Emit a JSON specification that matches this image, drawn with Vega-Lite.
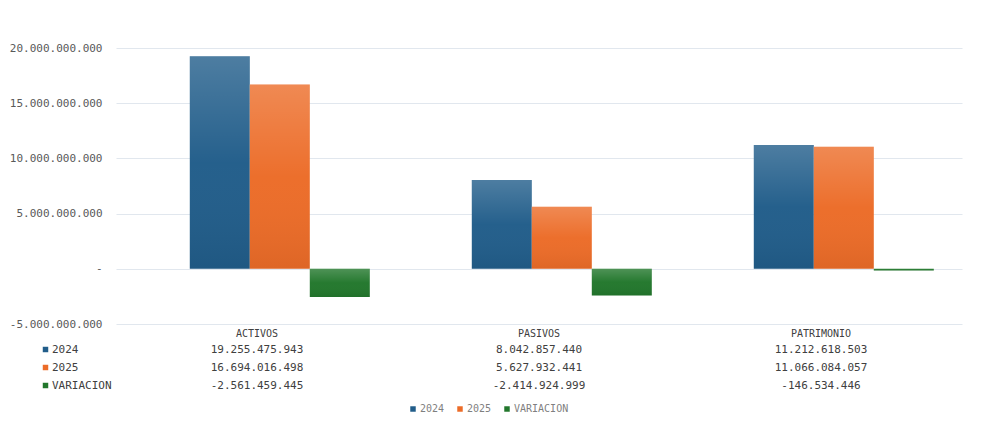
{
  "$schema": "https://vega.github.io/schema/vega-lite/v6.json",
  "padding": {"left": 9, "top": 15, "right": 5, "bottom": 3},
  "background": "white",
  "config": {
    "locale": {"number": {"decimal": ",", "thousands": ".", "grouping": [3], "currency": ["$", ""], "minus": "-"}},
    "view": {"stroke": null},
    "font": "DejaVu Sans Mono"
  },
  "datasets": {
    "d": [
      {"cat": "ACTIVOS", "serie": "2024", "value": 19255475943},
      {"cat": "ACTIVOS", "serie": "2025", "value": 16694016498},
      {"cat": "ACTIVOS", "serie": "VARIACION", "value": -2561459445},
      {"cat": "PASIVOS", "serie": "2024", "value": 8042857440},
      {"cat": "PASIVOS", "serie": "2025", "value": 5627932441},
      {"cat": "PASIVOS", "serie": "VARIACION", "value": -2414924999},
      {"cat": "PATRIMONIO", "serie": "2024", "value": 11212618503},
      {"cat": "PATRIMONIO", "serie": "2025", "value": 11066084057},
      {"cat": "PATRIMONIO", "serie": "VARIACION", "value": -146534446}
    ]
  },
  "bounds": "flush",
  "spacing": 17,
  "resolve": {"scale": {"color": "independent", "x": "independent"}, "legend": {"color": "independent"}},
  "vconcat": [
    {
      "width": 846,
      "height": 309,
      "data": {"name": "d"},
      "encoding": {
        "x": {
          "field": "cat", "type": "nominal", "sort": ["ACTIVOS", "PASIVOS", "PATRIMONIO"],
          "scale": {"paddingInner": 0.2, "paddingOuter": 0.1},
          "axis": {"title": null, "domain": false, "ticks": false, "labelAngle": 0, "labelPadding": 4,
                   "labelFont": "DejaVu Sans Mono", "labelFontSize": 10, "labelColor": "#404040"}
        },
        "xOffset": {
          "field": "serie", "type": "nominal", "sort": ["2024", "2025", "VARIACION"],
          "scale": {"paddingInner": 0, "paddingOuter": 0.38, "align": 1}
        },
        "y": {
          "field": "value", "type": "quantitative",
          "scale": {"domain": [-5000000000, 23000000000], "nice": false, "zero": false},
          "axis": {
            "title": null, "domain": false, "ticks": false, "labelPadding": 14,
            "values": [-5000000000, 0, 5000000000, 10000000000, 15000000000, 20000000000],
            "format": ",.0f",
            "labelExpr": "datum.value === 0 ? '-\u00a0\u00a0' : datum.label",
            "labelFont": "DejaVu Sans Mono", "labelFontSize": 11, "labelColor": "#595959",
            "gridColor": "#e1e7ee", "gridWidth": 1.2
          }
        }
      },
      "layer": [
        {
          "mark": {"type": "bar"},
          "encoding": {
            "color": {
              "field": "serie", "type": "nominal",
              "scale": {"domain": ["2024", "2025", "VARIACION"], "range": ["#215d8a", "#ec6c28", "#22772c"]},
              "legend": {
                "title": null, "orient": "none", "direction": "horizontal", "legendX": 292, "legendY": 389,
                "symbolType": "square", "symbolSize": 30, "labelFont": "DejaVu Sans Mono", "labelFontSize": 10,
                "labelColor": "#7f7f7f", "columnPadding": 10, "labelOffset": 2
              }
            }
          }
        },
        {
          "mark": {
            "type": "bar",
            "fill": {"gradient": "linear", "x1": 0, "y1": 0, "x2": 0, "y2": 1,
                     "stops": [{"offset": 0, "color": "rgba(255,255,255,0.2)"},
                               {"offset": 0.5, "color": "rgba(255,255,255,0.02)"},
                               {"offset": 1, "color": "rgba(0,0,0,0.06)"}]}
          }
        }
      ]
    },
    {
      "width": 846,
      "height": 54,
      "data": {"name": "d"},
      "encoding": {
        "x": {"field": "cat", "type": "nominal", "sort": ["ACTIVOS", "PASIVOS", "PATRIMONIO"],
              "scale": {"paddingInner": 0.2, "paddingOuter": 0.1}, "axis": null},
        "y": {"field": "serie", "type": "nominal", "sort": ["2024", "2025", "VARIACION"],
              "scale": {"paddingInner": 0, "paddingOuter": 0}, "axis": null}
      },
      "layer": [
        {
          "mark": {"type": "text", "font": "DejaVu Sans Mono", "fontSize": 11, "color": "#404040"},
          "encoding": {"text": {"field": "value", "type": "quantitative", "format": ",.0f"}}
        },
        {
          "mark": {"type": "square", "opacity": 0},
          "encoding": {
            "color": {
              "field": "serie", "type": "nominal",
              "scale": {"domain": ["2024", "2025", "VARIACION"], "range": ["#215d8a", "#ec6c28", "#22772c"]},
              "legend": {
                "title": null, "orient": "none", "direction": "vertical", "legendX": -76, "legendY": 3,
                "symbolType": "square", "symbolSize": 30, "symbolOpacity": 1, "labelFont": "DejaVu Sans Mono",
                "labelFontSize": 11, "labelColor": "#404040", "rowPadding": 6, "labelOffset": 1
              }
            }
          }
        }
      ]
    }
  ]
}
